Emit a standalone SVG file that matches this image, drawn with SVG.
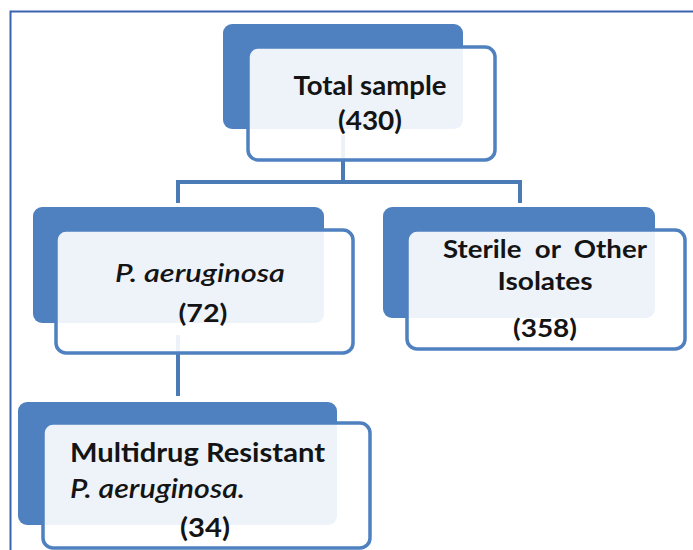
<svg xmlns="http://www.w3.org/2000/svg" width="693" height="550" viewBox="0 0 693 550">
<style>
.back{fill:#4f81c0;}
.front{fill:#ffffff;fill-opacity:0.9;stroke:#4f81c0;stroke-width:3.5;}
.conn{fill:none;stroke:#4a7bb7;stroke-width:4;}
.t{font-family:Lato,"Liberation Sans",sans-serif;font-weight:700;fill:#141414;text-anchor:middle;}
.i{font-style:italic;font-weight:600;}
</style>
<rect width="693" height="550" fill="#fff"/>
<path d="M10.5 550 V11.5 H693" fill="none" stroke="#3a63b0" stroke-width="2"/>
<g id="connectors">
<path class="conn" d="M343 135 V182 M178 203 V182 H520 V203"/>
<path class="conn" d="M178 335 V396"/>
</g>
<g id="node-total">
<rect class="back" x="223" y="24" width="240" height="105" rx="9"/>
<rect class="front" x="248" y="47" width="247" height="113" rx="10"/>
<text class="t" x="370" y="95" font-size="26" textLength="153" lengthAdjust="spacingAndGlyphs">Total sample</text>
<text class="t" x="370" y="130" font-size="26" textLength="64" lengthAdjust="spacingAndGlyphs">(430)</text>
</g>
<g id="node-paeruginosa">
<rect class="back" x="33" y="207" width="291" height="116" rx="9"/>
<rect class="front" x="56" y="230" width="297" height="123" rx="10"/>
<text class="t i" x="200" y="282" font-size="25" textLength="170" lengthAdjust="spacingAndGlyphs">P. aeruginosa</text>
<text class="t" x="203" y="322" font-size="25" textLength="49" lengthAdjust="spacingAndGlyphs">(72)</text>
</g>
<g id="node-sterile">
<rect class="back" x="383" y="207" width="272" height="111" rx="9"/>
<rect class="front" x="407" y="230" width="278" height="119" rx="10"/>
<text class="t" x="545" y="258" font-size="25" xml:space="preserve" textLength="204" lengthAdjust="spacingAndGlyphs">Sterile  or  Other</text>
<text class="t" x="545" y="290" font-size="25" textLength="95" lengthAdjust="spacingAndGlyphs">Isolates</text>
<text class="t" x="545" y="337" font-size="25" textLength="64" lengthAdjust="spacingAndGlyphs">(358)</text>
</g>
<g id="node-mdr">
<rect class="back" x="18" y="402" width="319" height="123" rx="9"/>
<rect class="front" x="43" y="423" width="327" height="125" rx="10"/>
<text class="t" x="70" y="462" font-size="27" style="text-anchor:start" textLength="255" lengthAdjust="spacingAndGlyphs">Multidrug Resistant</text>
<text class="t i" x="70" y="498" font-size="27" style="text-anchor:start" textLength="175" lengthAdjust="spacingAndGlyphs">P. aeruginosa.</text>
<text class="t" x="205" y="537" font-size="27" textLength="50" lengthAdjust="spacingAndGlyphs">(34)</text>
</g>
</svg>
